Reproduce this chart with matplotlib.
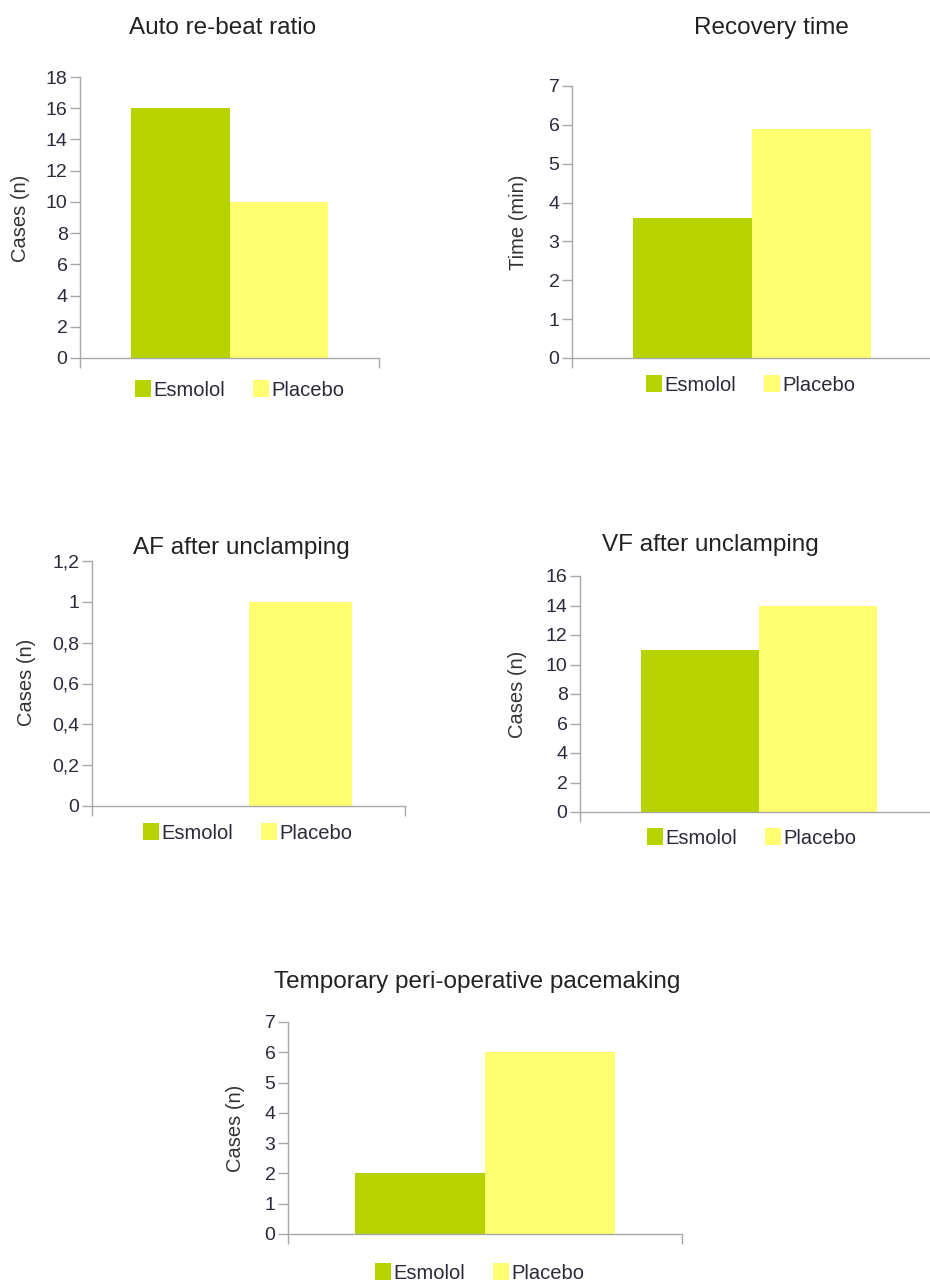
import matplotlib
matplotlib.use("Agg")
import matplotlib.pyplot as plt
from matplotlib.patches import Patch
from matplotlib.ticker import FuncFormatter

plt.rcParams['font.family'] = ['Liberation Sans', 'DejaVu Sans']

groups = ['Esmolol', 'Placebo']
colors = ['#b6d300', '#ffff70']

titles = ['Auto re-beat ratio', 'Recovery time', 'AF after unclamping',
          'VF after unclamping', 'Temporary peri-operative pacemaking']
ylabels = ['Cases (n)', 'Time (min)', 'Cases (n)', 'Cases (n)', 'Cases (n)']

rebeat = [16, 10]
recovery = [3.6, 5.9]
af = [0, 1]
vf = [11, 14]
pacing = [2, 6]
values = [rebeat, recovery, af, vf, pacing]

yticks = [
    [0, 2, 4, 6, 8, 10, 12, 14, 16, 18],
    [0, 1, 2, 3, 4, 5, 6, 7],
    [0, 0.2, 0.4, 0.6, 0.8, 1.0, 1.2],
    [0, 2, 4, 6, 8, 10, 12, 14, 16],
    [0, 1, 2, 3, 4, 5, 6, 7],
]

W, H = 930, 1284
fig = plt.figure(figsize=(W / 100, H / 100), dpi=100)

# layout in pixels: axes left, right, y of top tick, y of zero; title xy; ylabel xy; legend xy
layout = [
    dict(ax=(80, 379, 77, 358), title=(223, 28), ylab=(20, 218), leg=(240, 390)),
    dict(ax=(572, 932, 86, 358), title=(771, 28), ylab=(518, 222), leg=(751, 385)),
    dict(ax=(92, 405, 561, 806), title=(241, 548), ylab=(27, 682), leg=(248, 833)),
    dict(ax=(580, 938, 576, 812), title=(710, 545), ylab=(517, 694), leg=(752, 838)),
    dict(ax=(288, 682, 1022, 1234), title=(477, 982), ylab=(235, 1128), leg=(480, 1273)),
]


def comma(v, pos):
    return ('%g' % v).replace('.', ',')


axis_col = '#a8a8a8'
text_col = '#2a2a3a'
bw = 0.33

for i in range(5):
    L, R, yt, y0 = layout[i]['ax']
    ax = fig.add_axes([L / W, 1 - y0 / H, (R - L) / W, (y0 - yt) / H])
    ax.bar([-bw / 2, bw / 2], values[i], width=bw, color=colors, linewidth=0)
    ax.set_xlim(-0.5, 0.5)
    ax.set_ylim(0, yticks[i][-1])
    ax.set_yticks(yticks[i])
    ax.yaxis.set_major_formatter(FuncFormatter(comma))
    ax.set_xticks([-0.5, 0.5])
    ax.set_xticklabels([])
    ax.tick_params(axis='both', direction='out', length=7, width=1, color=axis_col)
    ax.tick_params(axis='y', labelsize=14, labelcolor=text_col, pad=2)
    for s in ['top', 'right']:
        ax.spines[s].set_visible(False)
    for s in ['left', 'bottom']:
        ax.spines[s].set_color(axis_col)
        ax.spines[s].set_linewidth(1)

    tx, ty = layout[i]['title']
    fig.text(tx / W, 1 - ty / H, titles[i], ha='center', va='center',
             fontsize=17.5, color='#222222')
    lx, ly = layout[i]['ylab']
    fig.text(lx / W, 1 - ly / H, ylabels[i], ha='center', va='center',
             rotation=90, fontsize=14.5, color='#333333')
    gx, gy = layout[i]['leg']
    handles = [Patch(facecolor=c, edgecolor='none', label=g) for c, g in zip(colors, groups)]
    fig.legend(handles=handles, loc='center', bbox_to_anchor=(gx / W, 1 - gy / H),
               ncol=2, frameon=False, fontsize=14.5, handlelength=0.75, handleheight=0.9,
               handletextpad=0.15, columnspacing=1.4, labelcolor=text_col)

plt.savefig('out.png', dpi=100)
